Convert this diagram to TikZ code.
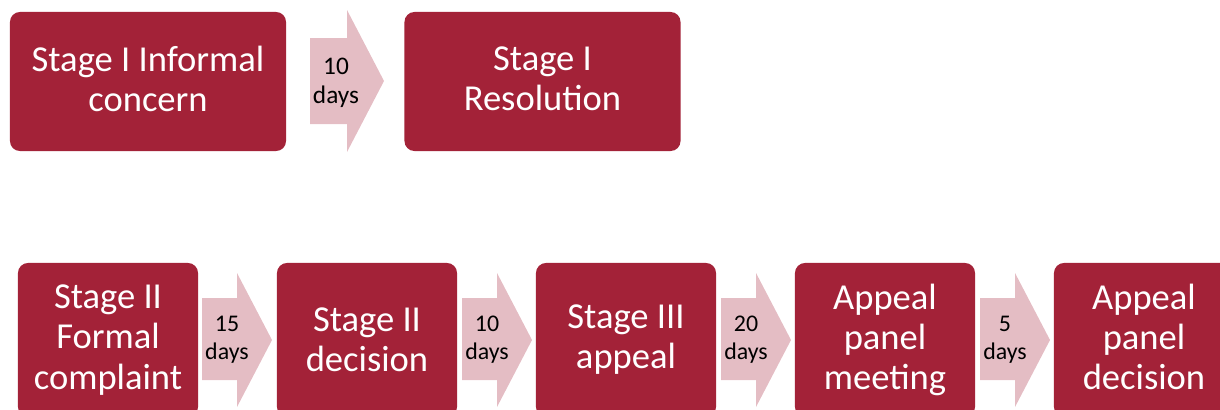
\documentclass[tikz,border=0pt]{standalone}
\usepackage{fontspec}
\setmainfont{Carlito}
\definecolor{stagered}{RGB}{163,34,56}
\definecolor{daypink}{RGB}{228,189,196}
\tikzset{
  stagebox/.style={fill=stagered, rounded corners=0.25cm, text=white, align=center,
    font=\fontsize{26}{28.5}\selectfont, inner sep=0pt},
  topbox/.style={stagebox, minimum width=6.9cm, minimum height=3.475cm},
  lowbox/.style={stagebox, minimum width=4.5cm, minimum height=3.85cm},
  dayarrow/.style={fill=daypink},
  daylabel/.style={align=center, inner sep=0pt, font=\fontsize{18}{21}\selectfont}
}
\begin{document}
\begin{tikzpicture}[x=0.025cm,y=-0.025cm]
\clip (0,0) rectangle (1220,409);
\node[topbox] (inf) at (148,81.5) {Stage I Informal\\concern\vphantom{g}};
\node[topbox] (res) at (542.5,81.5) {Stage I\\Resolution\vphantom{g}};
\fill[dayarrow] (310,38) -- (347,38) -- (347,10) -- (384,81) -- (347,152) -- (347,124) -- (310,124) -- cycle;
\node[daylabel] (d0) at (336,83) {10\\days};
\node[lowbox] (formal) at (108,340) {Stage II\\Formal\\complaint};
\node[lowbox] (dec) at (367,340) {Stage II\\decision};
\node[lowbox] (app) at (626,340) {Stage III\\appeal};
\node[lowbox] (meet) at (885,340) {Appeal\\panel\\meeting};
\node[lowbox] (pdec) at (1144,340) {Appeal\\panel\\decision\vphantom{g}};
\foreach \x/\d [count=\i] in {202/15,462/10,721/20,980/5} {
  \fill[dayarrow] (\x,298) -- (\x+35,298) -- (\x+35,273) -- (\x+70,340) -- (\x+35,407) -- (\x+35,380) -- (\x,380) -- cycle;
  \node[daylabel, font=\fontsize{17}{20}\selectfont] (d\i) at (\x+25,340) {\d\\days};
}
\end{tikzpicture}
\end{document}
